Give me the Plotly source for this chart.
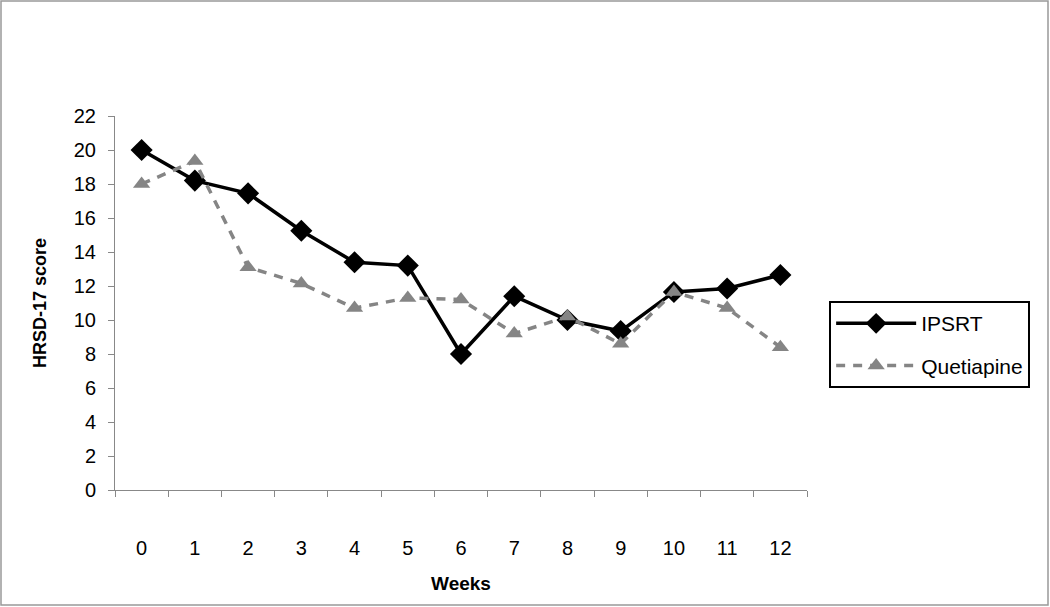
import plotly.graph_objects as go

weeks = ["0", "1", "2", "3", "4", "5", "6", "7", "8", "9", "10", "11", "12"]
ipsrt = [20.0, 18.2, 17.45, 15.25, 13.4, 13.2, 8.0, 11.4, 10.0, 9.35, 11.65, 11.85, 12.65]
quetiapine = [18.0, 19.35, 13.1, 12.15, 10.7, 11.3, 11.2, 9.2, 10.2, 8.6, 11.65, 10.7, 8.4]
y_ticks = list(range(0, 23, 2))

fig = go.Figure()
fig.add_trace(go.Scatter(
    x=weeks, y=ipsrt, name="IPSRT", mode="lines+markers", legendgroup="a",
    line=dict(color="black", width=3.5),
    marker=dict(symbol="diamond", size=17, color="black"),
))
fig.add_trace(go.Scatter(
    x=weeks, y=quetiapine, name="Quetiapine", mode="lines+markers", legendgroup="b",
    line=dict(color="#858585", width=3.5, dash="9px,8px"),
    marker=dict(symbol="triangle-up", size=15, color="#858585"),
))

font_family = "Liberation Sans, Arial, sans-serif"

fig.update_layout(
    width=1050, height=607,
    margin=dict(l=115, r=243, t=116, b=117),
    paper_bgcolor="white", plot_bgcolor="white",
    font=dict(family=font_family, color="black", size=18),
    showlegend=True,
    legend=dict(
        x=1.032, y=0.505, xanchor="left", yanchor="top",
        bordercolor="black", borderwidth=2,
        font=dict(size=21, family=font_family),
        itemwidth=80, traceorder="grouped", tracegroupgap=12,
    ),
    xaxis=dict(
        type="category", tickson="boundaries", ticks="outside", ticklen=6,
        tickcolor="#888888", showline=True, linecolor="#888888", linewidth=1,
        showgrid=False, zeroline=False, ticklabelstandoff=40,
        tickfont=dict(size=20),
        title=dict(text="<b>Weeks</b>", font=dict(size=19), standoff=18),
        range=[-0.5, 12.5],
    ),
    yaxis=dict(
        range=[0, 22], tickvals=y_ticks, ticks="outside", ticklen=6,
        tickcolor="#888888", showline=True, linecolor="#888888", linewidth=1,
        showgrid=False, zeroline=False, ticklabelstandoff=8,
        tickfont=dict(size=20),
        title=dict(text="<b>HRSD-17 score</b>", font=dict(size=18), standoff=22),
    ),
)

# outer frame around the whole picture
fig.add_shape(type="rect", xref="paper", yref="paper",
              x0=(1 - 115) / 692, x1=(1048 - 115) / 692,
              y0=(490 - 605) / 374, y1=(490 - 1) / 374,
              line=dict(color="#999999", width=1.5), layer="below")

fig.write_html("out.html", config={"displayModeBar": False},
               post_script="document.body.style.margin='0';")
